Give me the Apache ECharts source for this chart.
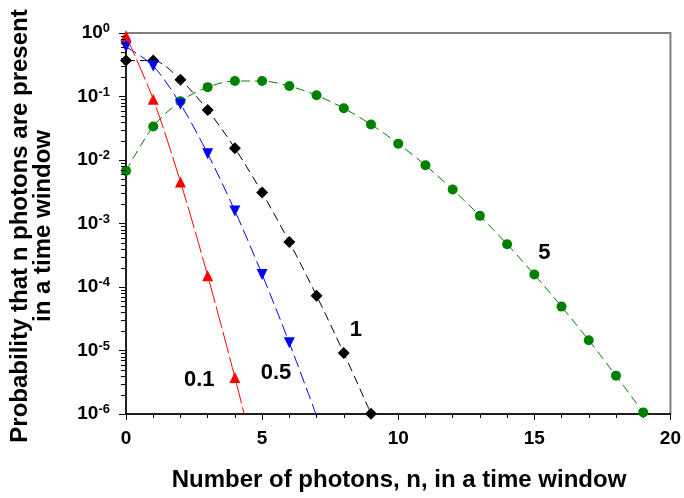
<!DOCTYPE html>
<html><head><meta charset="utf-8">
<script src="https://cdn.jsdelivr.net/npm/echarts@6/dist/echarts.min.js"></script>
<style>html,body{margin:0;padding:0;background:#fff}#c{width:684px;height:498px}</style>
</head><body><div id="c"></div>
<script>
// Data
const n01 = [0, 1, 2, 3, 4, 5];
const p01 = [0.905, 0.0905, 0.00452, 0.000151, 0.00000377, 0.000000075];
const n05 = [0, 1, 2, 3, 4, 5, 6, 7];
const p05 = [0.607, 0.303, 0.0758, 0.0126, 0.00158, 0.000158, 0.0000132, 0.00000094];
const n1 = [0, 1, 2, 3, 4, 5, 6, 7, 8, 9];
const p1 = [0.368, 0.368, 0.184, 0.0613, 0.0153, 0.00307, 0.000511, 0.000073, 0.00000912, 0.00000101];
const n5 = [0, 1, 2, 3, 4, 5, 6, 7, 8, 9, 10, 11, 12, 13, 14, 15, 16, 17, 18, 19];
const p5 = [0.00674, 0.0337, 0.0842, 0.1404, 0.1755, 0.1755, 0.1462, 0.1044, 0.0653, 0.0363, 0.0181,
            0.00824, 0.00343, 0.00132, 0.000472, 0.000157, 0.0000491, 0.0000145, 0.00000402, 0.00000106];
// curve annotations
const annText = ['0.1', '0.5', '1', '5'];
const annX = [2.69, 5.51, 8.44, 15.37];
const annY = [0.0000034, 0.0000044, 0.000021, 0.00035];
// axis ticks
const xTicks = [0, 5, 10, 15, 20];
const yDecades = [-6, -5, -4, -3, -2, -1, 0];
const yMinorMult = [2, 3, 4, 5, 6, 7, 8, 9];

const chart = echarts.init(document.getElementById('c'), null, {renderer: 'canvas'});
const F = 'Liberation Sans, Arial, sans-serif';

function pairs(xs, ys, hideFrom) {
  return xs.map((x, i) => {
    const d = {value: [x, ys[i]]};
    if (hideFrom !== undefined && i >= hideFrom) d.symbol = 'none';
    return d;
  });
}
const minorVals = [];
for (let k = 0; k < yDecades.length; k++) {
  if (yDecades[k] < 0) {
    for (let j = 0; j < yMinorMult.length; j++) minorVals.push(yMinorMult[j] * Math.pow(10, yDecades[k]));
  }
}

const titles = [
  {id: 'xt', type: 'text', x: 399, y: 480, style: {text: 'Number of photons, n, in a time window', font: 'bold 24px ' + F, fill: '#000', textAlign: 'center', textVerticalAlign: 'middle'}},
  {id: 'yt', type: 'text', x: 32, y: 226, rotation: Math.PI / 2, style: {text: 'Probability that n photons are present\nin a time window', font: 'bold 24px ' + F, fill: '#000', textAlign: 'center', textVerticalAlign: 'middle', lineHeight: 23}}
];

chart.setOption({
  animation: false,
  grid: {left: 126, right: 12, top: 33, bottom: 84, show: true, borderColor: '#808080', borderWidth: 2, backgroundColor: 'transparent'},
  xAxis: {
    type: 'value', min: xTicks[0], max: xTicks[xTicks.length - 1], interval: 5,
    axisLine: {lineStyle: {color: '#000', width: 1.5}},
    axisTick: {show: true, inside: false, length: 6, lineStyle: {color: '#000', width: 1}},
    minorTick: {show: true, splitNumber: 5, length: 4, lineStyle: {color: '#000', width: 1}},
    splitLine: {show: false},
    axisLabel: {margin: 15, color: '#000', fontFamily: F, fontWeight: 'bold', fontSize: 19}
  },
  yAxis: {
    type: 'log', logBase: 10, min: 1e-6, max: 1,
    axisLine: {lineStyle: {color: '#000', width: 1.5}},
    axisTick: {show: true, inside: false, length: 7, lineStyle: {color: '#000', width: 1}},
    splitLine: {show: false},
    axisLabel: {
      margin: 16, color: '#000',
      formatter: v => '{b|10}{s|' + Math.round(Math.log10(v)) + '}',
      rich: {
        b: {fontFamily: F, fontWeight: 'bold', fontSize: 19, color: '#000', lineHeight: 22},
        s: {fontFamily: F, fontWeight: 'bold', fontSize: 13, color: '#000', lineHeight: 13, verticalAlign: 'top'}
      }
    }
  },
  graphic: titles,
  series: [
    {
      type: 'line', data: pairs(n5, p5), smooth: 0.3, clip: true, z: 2,
      lineStyle: {color: '#008000', width: 1, type: [9, 5]},
      symbol: 'circle', symbolSize: 10, itemStyle: {color: '#008000'}
    },
    {
      type: 'line', data: pairs(n1, p1), smooth: 0.3, clip: true, z: 3,
      lineStyle: {color: '#000', width: 1, type: [9, 5]},
      symbol: 'diamond', symbolSize: 12, itemStyle: {color: '#000'}
    },
    {
      type: 'line', data: pairs(n05, p05, 7), smooth: 0.3, clip: true, z: 4,
      lineStyle: {color: '#0000ff', width: 1, type: [12, 5]},
      symbol: 'triangle', symbolRotate: 180, symbolSize: 11, itemStyle: {color: '#0000ff'}
    },
    {
      type: 'line', data: pairs(n01, p01, 5), smooth: 0.3, clip: true, z: 5,
      lineStyle: {color: '#ff0000', width: 1, type: [22, 4]},
      symbol: 'triangle', symbolSize: 11, itemStyle: {color: '#ff0000'}
    }
  ]
});

// annotations and minor log ticks placed through the chart's own scales
const extra = annText.map((t, i) => {
  const p = chart.convertToPixel({gridIndex: 0}, [annX[i], annY[i]]);
  return {id: 'ann' + i, type: 'text', x: p[0], y: p[1], z: 100,
    style: {text: t, font: 'bold 22px ' + F, fill: '#000', textAlign: 'center', textVerticalAlign: 'middle'}};
});
// x pixel of the y axis, extrapolated from two in-range positions of the x scale
const pa = chart.convertToPixel({gridIndex: 0}, [annX[0], annY[0]]);
const pb = chart.convertToPixel({gridIndex: 0}, [annX[1], annY[0]]);
const axisX = pa[0] - (pb[0] - pa[0]) * (annX[0] - xTicks[0]) / (annX[1] - annX[0]);
const minorG = minorVals.map((v, i) => {
  const p = chart.convertToPixel({gridIndex: 0}, [annX[0], v]);
  const y = Math.round(p[1]);
  return {id: 'mt' + i, type: 'rect', zlevel: 1, z: 100, shape: {x: Math.round(axisX) - 5, y: y, width: 5, height: 1}, style: {fill: '#000'}};
});
chart.setOption({graphic: titles.concat(extra, minorG)});
</script></body></html>
